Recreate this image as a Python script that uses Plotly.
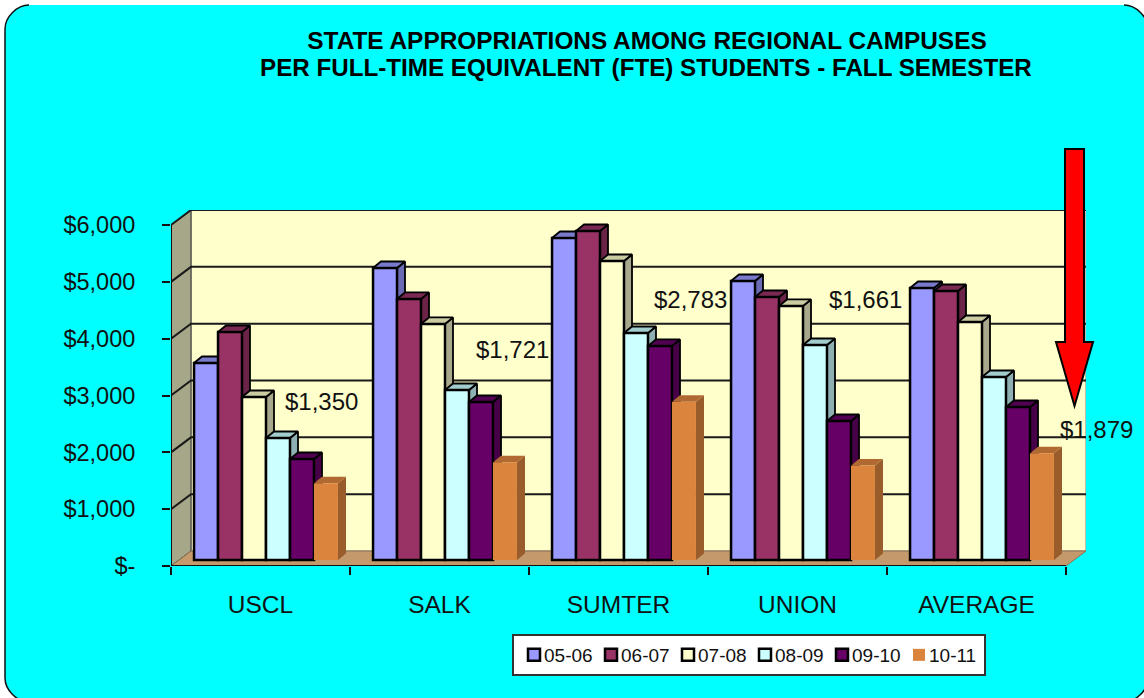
import plotly.graph_objects as go

categories = ["USCL", "SALK", "SUMTER", "UNION", "AVERAGE"]
series_names = ["05-06", "06-07", "07-08", "08-09", "09-10", "10-11"]
v_0506 = [3466, 5138, 5666, 4909, 4786]
v_0607 = [4012, 4593, 5789, 4628, 4733]
v_0708 = [2868, 4153, 5261, 4470, 4188]
v_0809 = [2147, 2991, 3994, 3783, 3220]
v_0910 = [1777, 2780, 3766, 2446, 2692]
v_1011 = [1350, 1721, 2783, 1661, 1879]
series_values = [v_0506, v_0607, v_0708, v_0809, v_0910, v_1011]
y_ticks = [0, 1000, 2000, 3000, 4000, 5000, 6000]
y_tick_labels = ["$-", "$1,000", "$2,000", "$3,000", "$4,000", "$5,000", "$6,000"]
title_line_1 = "STATE APPROPRIATIONS AMONG REGIONAL CAMPUSES"
title_line_2 = "PER FULL-TIME EQUIVALENT (FTE) STUDENTS - FALL SEMESTER"

front = ["#9999FF", "#993366", "#FFFFCC", "#CCFFFF", "#660066", "#DB843D"]
side = ["#6B6BB3", "#6B2447", "#A8A88C", "#8FB0B3", "#470047", "#995C2B"]
top = ["#7A7ACC", "#7A2952", "#CCCCA3", "#A3CCCC", "#520052", "#B06A31"]
edge = ["#000000"] * 5 + [None]

W, H = 1144, 698
L, R, T, B = 171, 1086, 210, 566
PX_CAT = 179.0
PX_Y = 341 / 6000


def px(x):
    return (x - L) / (R - L)


def py(y):
    return (B - y) / (B - T)


DX = 20 / PX_CAT
DY = 15 / PX_Y
BASE_X = (266 - L) / PX_CAT
BASE_Y = 6 / PX_Y
BAR_W = 24 / PX_CAT
DEPTH_X = 8 / PX_CAT
DEPTH_Y = 6.5 / PX_Y
N = len(categories)

fig = go.Figure()


def poly(xs, ys, fill, line=None, width=1.0):
    fig.add_trace(go.Scatter(
        x=xs, y=ys, mode="lines", fill="toself", fillcolor=fill,
        line=dict(color=line or fill, width=width if line else 0),
        hoverinfo="skip", showlegend=False))


# walls and floor
poly([DX, N + DX, N + DX, DX, DX], [DY, DY, 6000 + DY, 6000 + DY, DY], "#FFFFCC", "#A8A8A0", 1.5)
poly([0, DX, DX, 0, 0], [0, DY, 6000 + DY, 6000, 0], "#A6A688", "#333333", 1)
poly([0, N, N + DX, DX, 0], [0, 0, DY, DY, 0], "#C49A6C", "#8A7050", 1)

# gridlines
gx, gy = [], []
for t in y_ticks[1:]:
    gx += [0, DX, N + DX, None]
    gy += [t, t + DY, t + DY, None]
fig.add_trace(go.Scatter(x=gx, y=gy, mode="lines", line=dict(color="#1A1A1A", width=2),
                         hoverinfo="skip", showlegend=False))

# depth faces of the bars
for s, vals in enumerate(series_values):
    sx, sy, tx, ty = [], [], [], []
    for g, v in enumerate(vals):
        x0 = BASE_X + g + (s - 3) * BAR_W
        x1 = x0 + BAR_W
        yt = v + BASE_Y
        sx += [x1, x1 + DEPTH_X, x1 + DEPTH_X, x1, x1, None]
        sy += [BASE_Y, BASE_Y + DEPTH_Y, yt + DEPTH_Y, yt, BASE_Y, None]
        tx += [x0, x0 + DEPTH_X, x1 + DEPTH_X, x1, x0, None]
        ty += [yt, yt + DEPTH_Y, yt + DEPTH_Y, yt, yt, None]
    poly(sx, sy, side[s], edge[s], 1.8)
    poly(tx, ty, top[s], edge[s], 1.8)

# front axis lines
fig.add_trace(go.Scatter(x=[0, N, None, 0, 0], y=[0, 0, None, 0, 6000], mode="lines",
                         line=dict(color="#111111", width=2), cliponaxis=False,
                         hoverinfo="skip", showlegend=False))

# front faces: real bars on an overlaying axis pair
for s, vals in enumerate(series_values):
    fig.add_trace(go.Bar(
        name=series_names[s], x=categories, y=vals, xaxis="x2", yaxis="y2",
        marker=dict(color=front[s],
                    line=dict(color=edge[s] or front[s], width=2.5 if edge[s] else 0))))

labels = [(321, 401, 0), (512, 349, 1), (690, 299, 2), (865, 299, 3), (1096, 429, 4)]
font_l = dict(family="Liberation Sans", size=24, color="#111111")
annotations = [dict(text=f"${v_1011[i]:,}", xref="paper", yref="paper", x=px(x), y=py(y),
                    showarrow=False, font=font_l, xanchor="center", yanchor="middle")
               for x, y, i in labels]
annotations.append(dict(text=f"<b>{title_line_2}</b>", xref="paper", yref="paper", x=px(646), y=py(67),
                        showarrow=False, xanchor="center", yanchor="middle",
                        font=dict(family="Liberation Sans", size=24.2, color="#000000")))

p = lambda x, y: f"{px(x)} {py(y)}"
r = 24
x0, x1, y0, y1 = 5, 1148, 5, 702
frame = (f"M {p(x0 + r, y0)} L {p(x1 - r, y0)} C {p(x1 - r / 2, y0)} {p(x1, y0 + r / 2)} {p(x1, y0 + r)} "
         f"L {p(x1, y1 - r)} C {p(x1, y1 - r / 2)} {p(x1 - r / 2, y1)} {p(x1 - r, y1)} "
         f"L {p(x0 + r, y1)} C {p(x0 + r / 2, y1)} {p(x0, y1 - r / 2)} {p(x0, y1 - r)} "
         f"L {p(x0, y0 + r)} C {p(x0, y0 + r / 2)} {p(x0 + r / 2, y0)} {p(x0 + r, y0)} Z")
outline = (f"M {p(x0 + r, y0)} C {p(x0 + r / 2, y0)} {p(x0, y0 + r / 2)} {p(x0, y0 + r)} "
           f"L {p(x0, y1 - r)} C {p(x0, y1 - r / 2)} {p(x0 + r / 2, y1)} {p(x0 + r, y1)} "
           f"M {p(x1 - r, y0)} C {p(x1 - r / 2, y0)} {p(x1, y0 + r / 2)} {p(x1, y0 + r)} "
           f"M {p(x1, y1 - r)} C {p(x1, y1 - r / 2)} {p(x1 - r / 2, y1)} {p(x1 - r, y1)}")
arrow = (f"M {p(1065, 149)} L {p(1084, 149)} L {p(1084, 342)} L {p(1093, 342)} "
         f"L {p(1074.5, 406)} L {p(1056, 342)} L {p(1065, 342)} Z")

shapes = [
    dict(type="path", xref="paper", yref="paper", path=frame, fillcolor="#00FFFF",
         line=dict(width=0), layer="below"),
    dict(type="path", xref="paper", yref="paper", path=outline, fillcolor="rgba(0,0,0,0)",
         line=dict(color="#111111", width=1.5), layer="below"),
    dict(type="path", xref="paper", yref="paper", path=arrow, fillcolor="#FF0000",
         line=dict(color="#000000", width=2), layer="above"),
]

fig.update_layout(
    width=W, height=H, autosize=False,
    margin=dict(l=L, r=W - R, t=T, b=H - B, pad=0),
    paper_bgcolor="#FFFFFF", plot_bgcolor="rgba(0,0,0,0)",
    font=dict(family="Liberation Sans", color="#111111"),
    title=dict(
        text=f"<b>{title_line_1}</b>",
        x=647 / W, xanchor="center", xref="container", y=1 - 40 / H, yanchor="middle", yref="container",
        font=dict(family="Liberation Sans", size=24.4, color="#000000")),
    barmode="group", bargap=0.196, bargroupgap=0,
    showlegend=True,
    legend=dict(orientation="h", x=px(512), y=py(634), xanchor="left", yanchor="top",
                bgcolor="#FFFFFF", bordercolor="#333333", borderwidth=2,
                font=dict(family="Liberation Sans", size=19, color="#111111"),
                traceorder="normal", entrywidth=32, entrywidthmode="pixels",
                itemwidth=30, itemclick=False, itemdoubleclick=False),
    xaxis=dict(range=[0, (R - L) / PX_CAT], tickvals=[i + 0.5 for i in range(N)], ticktext=categories,
               ticks="", showgrid=False, zeroline=False, showline=False, fixedrange=True,
               tickfont=dict(size=24.5), ticklabelstandoff=21,
               minor=dict(tickvals=list(range(N + 1)), ticks="outside", ticklen=8, tickwidth=2,
                          tickcolor="#111111", showgrid=False)),
    yaxis=dict(range=[0, (B - T) / PX_Y], tickvals=y_ticks, ticktext=y_tick_labels, ticks="outside",
               ticklen=8, tickwidth=2, tickcolor="#111111", showgrid=False, zeroline=False,
               showline=False, fixedrange=True, tickfont=dict(size=23.5), ticklabelstandoff=22),
    xaxis2=dict(overlaying="x", anchor="y2", type="category", categoryorder="array", categoryarray=categories,
                range=[(L - 266) / PX_CAT, (R - 266) / PX_CAT], visible=False, fixedrange=True),
    yaxis2=dict(overlaying="y", anchor="x2", range=[-6 / PX_Y, (560 - T) / PX_Y], visible=False, fixedrange=True),
    annotations=annotations,
    shapes=shapes,
)

post = """
document.body.style.margin='0';document.body.style.overflow='hidden';
var gd=document.getElementById('{plot_id}');
function tightLegend(){
  gd.querySelectorAll('.legendtext').forEach(function(t){t.setAttribute('x','30');});
  var bg=gd.querySelector('.legend .bg');
  if(bg){bg.style.width='472px';bg.setAttribute('width','472');}
  var clip=gd.querySelector('.legend .scrollbox');
}
tightLegend();
if(gd.on){gd.on('plotly_afterplot',tightLegend);}
setTimeout(tightLegend,50);
"""
fig.write_html("out.html", config={"displayModeBar": False}, post_script=post)
